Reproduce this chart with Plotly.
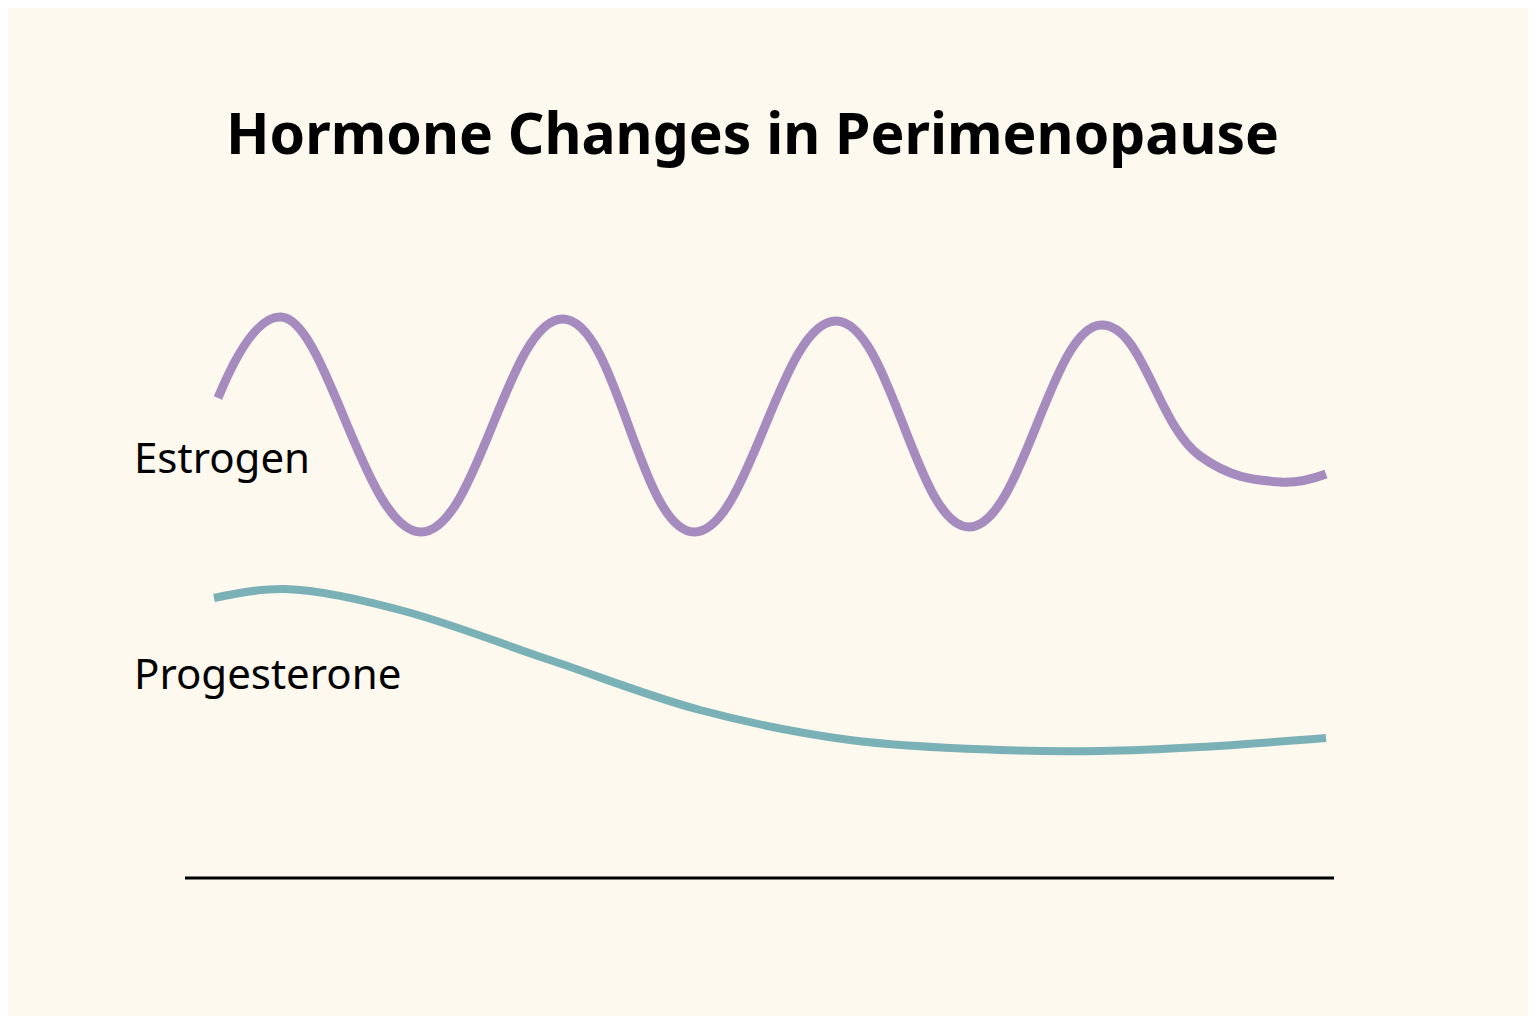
import plotly.graph_objects as go

# time axis (arbitrary units) and hormone levels
estrogen_t = [218, 281, 421, 563, 694, 836, 969, 1101, 1200, 1280, 1326]
estrogen_level = [626, 707, 492, 705, 492, 703, 497, 699, 568, 542, 550]

progesterone_t = [214, 285, 400, 550, 700, 850, 1000, 1100, 1200, 1326]
progesterone_level = [426, 435, 414, 364, 314, 284, 274, 273, 277, 286]

baseline_t = [185, 1334]
baseline_level = [146, 146]

fig = go.Figure()
fig.add_trace(go.Scatter(x=estrogen_t, y=estrogen_level, mode="lines",
                         line=dict(color="#a68bbf", width=9, shape="spline", smoothing=1.2)))
fig.add_trace(go.Scatter(x=progesterone_t, y=progesterone_level, mode="lines",
                         line=dict(color="#7ab1b6", width=8, shape="spline", smoothing=1.0)))
fig.add_trace(go.Scatter(x=baseline_t, y=baseline_level, mode="lines",
                         line=dict(color="black", width=3)))

fig.add_annotation(x=132, y=1024 - 456, text="Estrogen", showarrow=False, xanchor="left",
                   font=dict(size=42, color="black"))
fig.add_annotation(x=132, y=1024 - 672, text="Progesterone", showarrow=False, xanchor="left",
                   font=dict(size=42, color="black"))
fig.add_annotation(x=752, y=1024 - 132, text="<b>Hormone Changes in Perimenopause</b>", showarrow=False,
                   font=dict(size=57, color="black"))

fig.update_layout(
    width=1520, height=1008,
    margin=dict(l=0, r=0, t=0, b=0),
    paper_bgcolor="#fdf9ee", plot_bgcolor="#fdf9ee",
    showlegend=False,
    font=dict(family="Noto Sans, sans-serif"),
    xaxis=dict(range=[8, 1528], visible=False),
    yaxis=dict(range=[8, 1016], visible=False),
)

fig.write_html("out.html")
